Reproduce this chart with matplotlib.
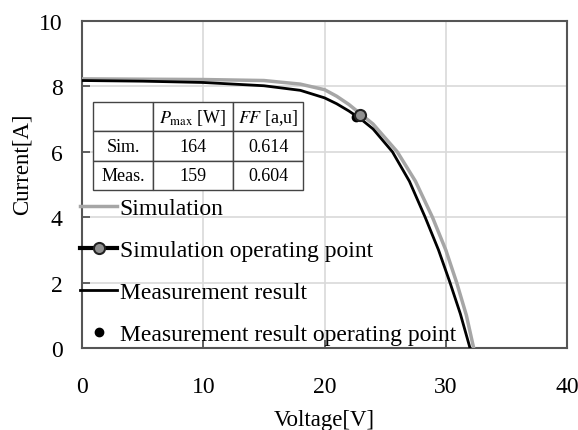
import matplotlib
matplotlib.use("Agg")
import matplotlib.pyplot as plt

plt.rcParams['font.family'] = ['Liberation Serif', 'DejaVu Serif']
plt.rcParams['mathtext.fontset'] = 'stix'

# I-V curves
sim_v = [0, 5, 10, 15, 18, 20, 21, 22, 23, 24, 26, 27.5, 28.9, 30, 30.9, 31.7, 32.3]
sim_i = [8.23, 8.22, 8.21, 8.18, 8.07, 7.9, 7.7, 7.45, 7.15, 6.85, 6.0, 5.1, 4.0, 3.0, 2.0, 1.0, 0]

meas_v = [0, 5, 10, 15, 18, 20, 21, 22, 23, 24, 25.6, 27, 28.3, 29.4, 30.35, 31.2, 32.0]
meas_i = [8.18, 8.16, 8.12, 8.02, 7.88, 7.65, 7.47, 7.25, 7.0, 6.7, 6.0, 5.1, 4.0, 3.0, 2.0, 1.05, 0]

sim_op = (22.9, 7.13)
meas_op = (22.6, 7.06)

col_labels = ['', r'$P_{\mathrm{max}}$ [W]', r'$FF$ [a,u]']
row_sim = ['Sim.', '164', '0.614']
row_meas = ['Meas.', '159', '0.604']

fig = plt.figure(figsize=(5.78, 4.31), dpi=100)
ax = fig.add_axes([0.142, 0.190, 0.839, 0.759])

ax.plot(sim_v, sim_i, color='#a6a6a6', lw=2.5, label='Simulation', zorder=3)
ax.plot(meas_v, meas_i, color='black', lw=2.0, label='Measurement result', zorder=4)
ax.plot([meas_op[0]], [meas_op[1]], 'o', color='black', ms=6,
        label='Measurement result operating point', zorder=5)
ax.plot([sim_op[0]], [sim_op[1]], '-o', color='black', lw=3, ms=8,
        mfc='#909090', mec='#222222', mew=1.5,
        label='Simulation operating point', zorder=6)

ax.set_xlim(0, 40)
ax.set_ylim(0, 10)
ax.set_xticks([0, 10, 20, 30, 40])
ax.set_yticks([0, 2, 4, 6, 8, 10])
ax.grid(True, color='#d9d9d9', lw=1.2)
ax.set_axisbelow(True)
ax.tick_params(direction='in', length=6, width=1.3, color='#555555',
               labelsize=17)
ax.tick_params(axis='x', pad=20)
ax.tick_params(axis='y', pad=14)
for s in ax.spines.values():
    s.set_color('#555555')
    s.set_linewidth(1.5)

ax.set_xlabel('Voltage[V]', fontsize=16.5, labelpad=9)
ax.set_ylabel('Current[A]', fontsize=16.5)
ax.yaxis.set_label_coords(-0.101, 0.566)

handles, labels = ax.get_legend_handles_labels()
order = [0, 3, 1, 2]
ax.legend([handles[k] for k in order], [labels[k] for k in order],
          loc='upper left', bbox_to_anchor=(-0.005, 0.46), frameon=False,
          fontsize=17, handlelength=1.6, handletextpad=0.1,
          labelspacing=0.87, borderpad=0, borderaxespad=0)

tbl = ax.table(cellText=[col_labels, row_sim, row_meas],
               colWidths=[60, 80, 70], cellLoc='center',
               bbox=[0.023, 0.483, 0.433, 0.269], zorder=10)
tbl.auto_set_font_size(False)
tbl.set_fontsize(13)
for cell in tbl.get_celld().values():
    cell.set_edgecolor('#444444')
    cell.set_linewidth(1.0)
    cell.set_facecolor('white')

fig.savefig('out.png', dpi=100)
